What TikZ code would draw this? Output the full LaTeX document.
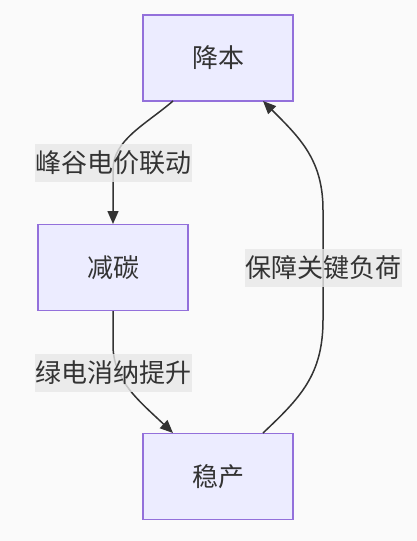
\documentclass[tikz,border=0pt]{standalone}
\usepackage{fontspec}
\setmainfont{Noto Sans CJK SC}
\usetikzlibrary{arrows.meta}
\definecolor{bg}{HTML}{FAFAFA}
\definecolor{nodefill}{HTML}{ECECFF}
\definecolor{nodeborder}{HTML}{9370DB}
\definecolor{ink}{HTML}{333333}
\definecolor{lblfill}{HTML}{E8E8E8}
\tikzset{
  box/.style={draw=nodeborder, fill=nodefill, line width=1.3pt, minimum width=150pt, minimum height=86pt, inner sep=0pt, text=ink, font=\fontsize{26pt}{30pt}\selectfont},
  lbl/.style={fill=lblfill, fill opacity=0.8, text opacity=1, text=ink, inner sep=0pt, minimum height=38pt, minimum width=157pt, font=\fontsize{26pt}{30pt}\selectfont},
  conn/.style={draw=ink, line width=1.5pt},
  tip/.style={-{Triangle[length=13pt,width=11pt]}}
}
\begin{document}
\begin{tikzpicture}[x=1pt,y=-1pt]
\useasboundingbox[fill=bg] (0,0) rectangle (417,541);
\node[box] (jb) at (218,58) {降本};
\node[box] (jt) at (113,267.5) {减碳};
\node[box] (wc) at (218,476.5) {稳产};
\coordinate (jbS1) at (173,101);
\coordinate (jbS2) at (263,101);
\coordinate (jtN) at (113,224);
\coordinate (jtS) at (113,311);
\coordinate (wcN1) at (173,433);
\coordinate (wcN2) at (263,433);
\draw[conn,tip] (jbS1) .. controls (145,125) and (113,140) .. (113,170) -- (jtN);
\draw[conn,tip] (jtS) -- (113,345) .. controls (113,380) and (138,400) .. (wcN1);
\draw[conn,tip] (wcN2) .. controls (300,398) and (323,375) .. (323,320) -- (323,210) .. controls (323,160) and (300,138) .. (jbS2);
\node[lbl] (l1) at (113,163) {峰谷电价联动};
\node[lbl] (l2) at (113,373) {绿电消纳提升};
\node[lbl] (l3) at (323.5,267.5) {保障关键负荷};
\end{tikzpicture}
\end{document}
